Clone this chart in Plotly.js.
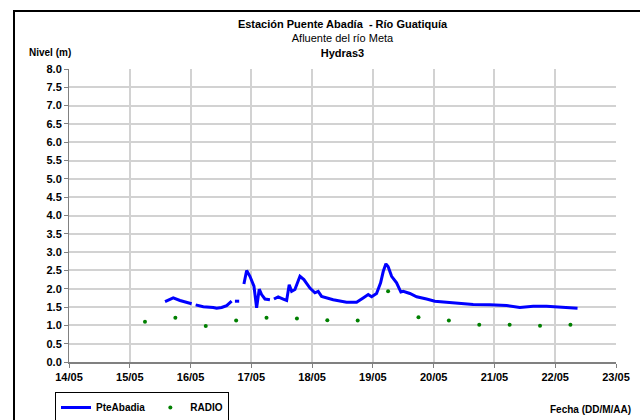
<!DOCTYPE html>
<html>
<head>
<meta charset="utf-8">
<script src="https://cdn.plot.ly/plotly-3.0.1.min.js"></script>
<style>html,body{margin:0;padding:0;background:#fff;}#chart{width:640px;height:420px;}</style>
</head>
<body>
<div id="chart"></div>
<script>
// Fractional day of May 2010 (DD + hour/24)
const levelDays = [
  15.58, 15.715, 15.826, 15.99, 16.018, null,
  16.084, 16.209, 16.373, 16.429, 16.511, 16.594, 16.676, null,
  16.73, 16.80, null,
  16.878, 16.923, 16.977, 17.043, 17.087, 17.13, 17.169, 17.224, 17.306, null,
  17.372, 17.442, 17.525, 17.581, 17.623, 17.663, 17.717, 17.80, 17.865, 17.964,
  18.046, 18.10, 18.156, 18.347, 18.567, 18.732, 18.84, 18.923, 18.979, 19.06,
  19.127, 19.17, 19.214, 19.25, 19.308, 19.39, 19.46, 19.50, 19.609, 19.72,
  19.883, 20.02, 20.21, 20.43, 20.65, 20.924, 21.2, 21.418, 21.637, 21.857,
  22.076, 22.367
];
const levelValues = [
  1.65, 1.75, 1.68, 1.59, 1.59, null,
  1.56, 1.51, 1.49, 1.47, 1.49, 1.54, 1.66, null,
  1.66, 1.66, null,
  2.13, 2.50, 2.34, 2.07, 1.48, 1.99, 1.84, 1.72, 1.70, null,
  1.72, 1.78, 1.72, 1.68, 2.11, 1.93, 1.98, 2.34, 2.25, 2.02,
  1.89, 1.93, 1.79, 1.70, 1.63, 1.63, 1.75, 1.84, 1.78, 1.87,
  2.16, 2.47, 2.68, 2.61, 2.34, 2.16, 1.91, 1.93, 1.87, 1.78,
  1.72, 1.66, 1.63, 1.59, 1.57, 1.56, 1.54, 1.49, 1.52, 1.52,
  1.50, 1.47
];
const radioDays = [15.25, 15.75, 16.25, 16.75, 17.25, 17.75, 18.25, 18.75, 19.25, 19.75, 20.25, 20.75, 21.25, 21.75, 22.25];
const radioValues = [1.10, 1.21, 0.98, 1.13, 1.21, 1.19, 1.14, 1.13, 1.93, 1.22, 1.13, 1.02, 1.02, 0.99, 1.02];
const tickDays = [14, 15, 16, 17, 18, 19, 20, 21, 22, 23];
const tickLabels = ['14/05', '15/05', '16/05', '17/05', '18/05', '19/05', '20/05', '21/05', '22/05', '23/05'];
const seriesNames = ['PteAbadia', 'RADIO'];

const FONT = 'Liberation Sans, Arial, sans-serif';

const traces = [
  {
    x: levelDays, y: levelValues, name: seriesNames[0],
    type: 'scatter', mode: 'lines', connectgaps: false,
    line: {color: '#0000FF', width: 3}
  },
  {
    x: radioDays, y: radioValues, name: seriesNames[1],
    type: 'scatter', mode: 'markers',
    marker: {color: '#008000', size: 4}
  }
];

const layout = {
  width: 640, height: 420,
  margin: {l: 69, r: 24, t: 69, b: 57.5, pad: 0, autoexpand: false},
  paper_bgcolor: '#ffffff', plot_bgcolor: '#ffffff',
  font: {family: FONT, size: 11, color: '#000'},
  title: {
    text: '<b>Estación Puente Abadía  - Río Guatiquía</b><br>Afluente del río Meta<br><b>Hydras3</b>',
    font: {family: FONT, size: 11, color: '#000'},
    x: 0.5, xref: 'paper', xanchor: 'center',
    y: 1 - 28 / 420, yref: 'container', yanchor: 'top'
  },
  xaxis: {
    range: [14, 23], tickvals: tickDays, ticktext: tickLabels,
    showgrid: true, gridcolor: '#d2d2d2', gridwidth: 2,
    showline: true, linecolor: '#808080', linewidth: 2,
    ticks: 'outside', ticklen: 4, tickcolor: '#808080', tickwidth: 1,
    tickfont: {family: FONT, size: 11, color: '#000', weight: 'bold'},
    zeroline: false, fixedrange: true
  },
  yaxis: {
    range: [0, 8], dtick: 0.5, tick0: 0, tickformat: '.1f',
    showgrid: true, gridcolor: '#d2d2d2', gridwidth: 2,
    showline: true, linecolor: '#808080', linewidth: 1,
    ticks: 'outside', ticklen: 4, tickcolor: '#808080', tickwidth: 1,
    tickfont: {family: FONT, size: 11, color: '#000', weight: 'bold'},
    zeroline: false, fixedrange: true
  },
  showlegend: true,
  legend: {
    orientation: 'h', xref: 'container', yref: 'container',
    x: 55 / 640, y: 1 - 392 / 420,
    xanchor: 'left', yanchor: 'top',
    bordercolor: '#000000', borderwidth: 1, bgcolor: '#fff',
    font: {family: FONT, size: 10, color: '#000', weight: 'bold'},
    itemwidth: 30, tracegroupgap: 0
  },
  annotations: [
    {text: '<b>Nivel (m)</b>', xref: 'paper', yref: 'paper',
     x: (50 - 69) / 547, y: (362.5 - 52) / 293.5, xanchor: 'center', yanchor: 'middle',
     showarrow: false, font: {family: FONT, size: 10, color: '#000'}},
    {text: '<b>Fecha (DD/M/AA)</b>', xref: 'paper', yref: 'paper',
     x: (633 - 69) / 547, y: (362.5 - 410) / 293.5, xanchor: 'right', yanchor: 'middle',
     showarrow: false, font: {family: FONT, size: 10, color: '#000'}}
  ],
  shapes: [
    {type: 'rect', xref: 'paper', yref: 'paper',
     x0: (14 - 69) / 547, x1: (660 - 69) / 547,
     y0: (362.5 - 440) / 293.5, y1: (362.5 - 11) / 293.5,
     line: {color: '#000', width: 2}, fillcolor: 'rgba(0,0,0,0)', layer: 'above'}
  ]
};

Plotly.newPlot('chart', traces, layout, {staticPlot: true, displayModeBar: false});
</script>
</body>
</html>
